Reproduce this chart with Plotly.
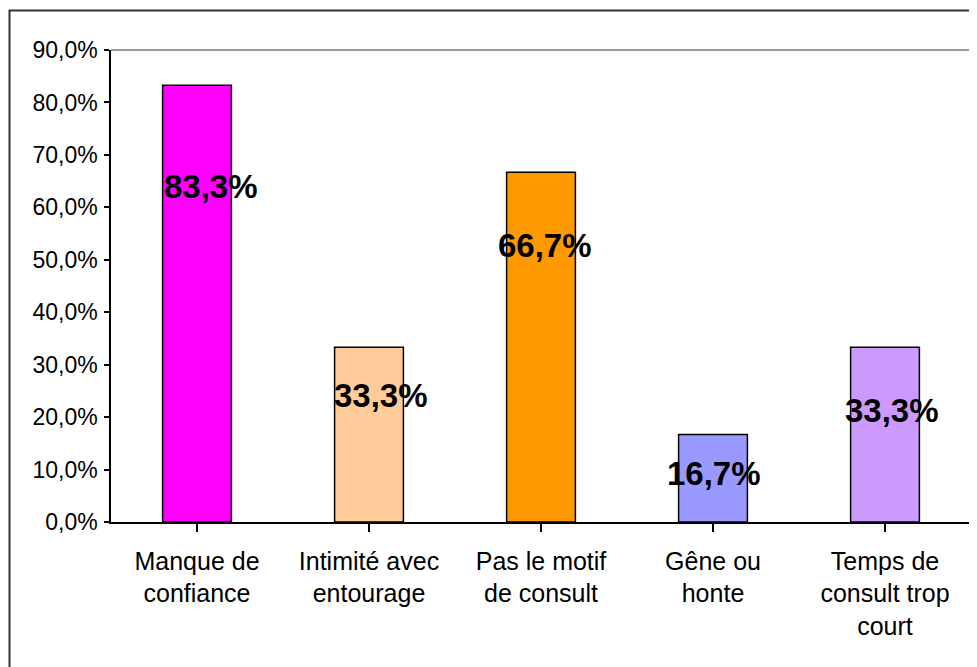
import plotly.graph_objects as go

categories = ["Manque de<br>confiance", "Intimité avec<br>entourage", "Pas le motif<br>de consult",
              "Gêne ou<br>honte", "Temps de<br>consult trop<br>court"]
values = [0.833, 0.333, 0.667, 0.167, 0.333]
value_labels = ["83,3%", "33,3%", "66,7%", "16,7%", "33,3%"]
colors = ["#FF00FF", "#FFCC99", "#FF9900", "#9999FF", "#CC99FF"]

# label placement style (pixel offsets from the bar top)
label_yshift = [-101, -48, -73, -39, -63]
label_xshift = [14, 12, 4, 1, 7]

FONT = "Liberation Sans, Arial, sans-serif"

W, H = 977, 667
OFF = 8  # page body margin
ml, mr, mt, mb = 111 - OFF, 6 + OFF, 50 - OFF, 145 + OFF
pw, ph = W - ml - mr, H - mt - mb

fig = go.Figure()
fig.add_trace(go.Bar(
    x=list(range(len(categories))), y=values,
    marker=dict(color=colors, line=dict(color="black", width=1.5)),
    width=0.4, hoverinfo="skip",
))

annotations = []
for i, (v, t) in enumerate(zip(values, value_labels)):
    annotations.append(dict(
        x=i, y=v, xref="x", yref="y", text=t, showarrow=False,
        yshift=label_yshift[i], xshift=label_xshift[i],
        font=dict(family=FONT, size=33, color="black", weight="bold"),
    ))


def px_x(p):
    return (p - OFF - ml) / pw


def px_y(p):
    return (H - mb - (p - OFF)) / ph


shapes = [
    # outer frame (extends off-canvas right and bottom)
    dict(type="rect", xref="paper", yref="paper",
         x0=px_x(9.5), x1=px_x(1000), y0=px_y(700), y1=px_y(10.5),
         line=dict(color="#333333", width=2), layer="below"),
    # top and right plot borders (gray)
    dict(type="line", xref="paper", yref="paper", x0=0, x1=1, y0=1, y1=1,
         line=dict(color="#999999", width=2)),
    dict(type="line", xref="paper", yref="paper", x0=1, x1=1, y0=0, y1=1,
         line=dict(color="#999999", width=2)),
]

fig.update_layout(
    width=W, height=H,
    margin=dict(l=ml, r=mr, t=mt, b=mb),
    paper_bgcolor="white", plot_bgcolor="white",
    separators=", ",
    showlegend=False,
    font=dict(family=FONT, color="black"),
    annotations=annotations,
    shapes=shapes,
)
fig.update_xaxes(
    tickmode="array", tickvals=list(range(len(categories))), ticktext=categories,
    range=[-0.5, len(categories) - 0.5],
    tickson="boundaries", ticks="outside", ticklen=8, tickcolor="black", tickwidth=1.5,
    showline=True, linecolor="black", linewidth=1.5, showgrid=False,
    tickfont=dict(family=FONT, size=25, color="black"), ticklabelstandoff=8,
)
fig.update_yaxes(
    range=[0, 0.9], dtick=0.1, tickformat=".1%",
    ticks="outside", ticklen=5, tickcolor="black", tickwidth=1.5,
    showline=True, linecolor="black", linewidth=1.5, showgrid=False, zeroline=False,
    tickfont=dict(family=FONT, size=23, color="black"), ticklabelstandoff=2,
)

fig.write_html("out.html")
